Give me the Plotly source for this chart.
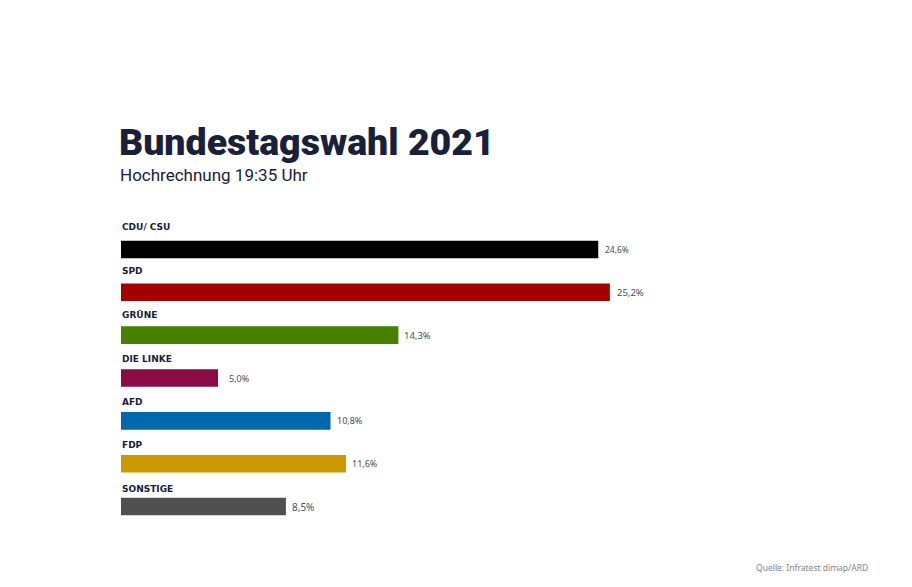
import plotly.graph_objects as go

parties = ["CDU/ CSU", "SPD", "GRÜNE", "DIE LINKE", "AFD", "FDP", "SONSTIGE"]
values = [24.6, 25.2, 14.3, 5.0, 10.8, 11.6, 8.5]
value_labels = ["24,6%", "25,2%", "14,3%", "5,0%", "10,8%", "11,6%", "8,5%"]
colors = ["#000000", "#a50000", "#468200", "#8c0a46", "#0068ab", "#cb9900", "#505050"]
label_sizes = [8.5, 9.5, 9.5, 9, 9, 9, 10]
label_shifts = [5, 5, 4, 9, 4, 4, 4]
name_shifts = [22, 21, 20, 19, 19, 19, 18]

# The page adds an 8 px body margin, so the figure is 16 px smaller than the window.
OFF = 8
W, H = 912 - 2 * OFF, 587 - 2 * OFF
NAVY = "#18203a"

L, R, T, B = 121 - OFF, 703 - OFF, 227.5 - OFF, 528.5 - OFF
PW, PH = R - L, B - T


def px(x):
    return (x - OFF - L) / PW


def py(y):
    return 1 - (y - OFF - T) / PH


fig = go.Figure(go.Bar(
    x=values, y=parties, orientation="h",
    marker=dict(color=colors, line_width=0),
    width=0.41, hoverinfo="skip",
))

for p, v, t, s, dx, ny in zip(parties, values, value_labels, label_sizes, label_shifts, name_shifts):
    fig.add_annotation(x=v, y=p, xref="x", yref="y", text=t, showarrow=False,
                       xanchor="left", xshift=dx,
                       font=dict(family="Noto Sans", size=s, color="#4a4d5a"))
    fig.add_annotation(x=0, y=p, xref="x", yref="y", text=p, showarrow=False,
                       xanchor="left", yanchor="middle", xshift=-1.5, yshift=ny,
                       font=dict(family="DejaVu Sans", size=9, color=NAVY, weight=700))

fig.add_annotation(x=px(118), y=py(174), xref="paper", yref="paper",
                   text="Hochrechnung 19:35 Uhr", showarrow=False, xanchor="left", yanchor="middle",
                   font=dict(family="Roboto", size=17, color=NAVY))
fig.add_annotation(x=px(870), y=py(568), xref="paper", yref="paper",
                   text="Quelle: Infratest dimap/ARD", showarrow=False, xanchor="right", yanchor="middle",
                   font=dict(family="Noto Sans", size=8.5, color="#80838c"))

fig.update_layout(
    width=W, height=H, autosize=False,
    paper_bgcolor="white", plot_bgcolor="white", showlegend=False,
    margin=dict(l=L, r=W - R, t=T, b=H - B),
    title=dict(text="Bundestagswahl 2021", x=(119 - OFF) / W, xanchor="left", xref="container",
               y=1 - (142 - OFF) / H, yanchor="middle", yref="container",
               font=dict(family="Roboto", size=37.5, color=NAVY, weight=900)),
    xaxis=dict(range=[0, 30], visible=False, fixedrange=True),
    yaxis=dict(categoryorder="array", categoryarray=parties, range=[6.5, -0.5],
               visible=False, fixedrange=True),
)
fig.write_html("out.html", config={"displayModeBar": False})
